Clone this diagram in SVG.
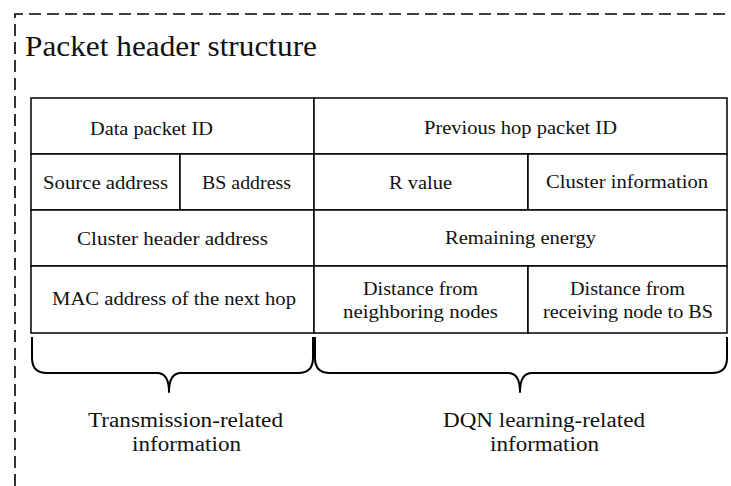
<svg xmlns="http://www.w3.org/2000/svg" width="731" height="486" viewBox="0 0 731 486">
  <style>
    .frame { fill: none; stroke: #000; stroke-width: 1.6; stroke-dasharray: 12 6; }
    .cell { fill: #fff; stroke: #000; stroke-width: 1.5; }
    .brace { fill: none; stroke: #000; stroke-width: 2; stroke-linejoin: round; }
    text { font-family: "Liberation Serif", "Times New Roman", serif; fill: #111; text-anchor: middle; }
    .lbl { font-size: 19px; }
    .title { font-size: 29px; text-anchor: start; }
    .cap { font-size: 20px; }
  </style>

  <rect width="731" height="486" fill="#fff"/>

  <!-- dashed outer frame (open on the right and bottom) -->
  <path class="frame" d="M15,486 L15,14 L740,14"/>

  <text class="title" x="25" y="56" textLength="292" lengthAdjust="spacingAndGlyphs">Packet header structure</text>

  <!-- transmission-related fields -->
  <g id="data-packet-id">
    <rect class="cell" x="31" y="98" width="283" height="56"/>
    <text class="lbl" x="151.5" y="135" textLength="123" lengthAdjust="spacingAndGlyphs">Data packet ID</text>
  </g>
  <g id="source-address">
    <rect class="cell" x="31" y="154" width="149" height="56"/>
    <text class="lbl" x="105.5" y="189" textLength="125" lengthAdjust="spacingAndGlyphs">Source address</text>
  </g>
  <g id="bs-address">
    <rect class="cell" x="180" y="154" width="134" height="56"/>
    <text class="lbl" x="246.5" y="189" textLength="89" lengthAdjust="spacingAndGlyphs">BS address</text>
  </g>
  <g id="cluster-header-address">
    <rect class="cell" x="31" y="210" width="283" height="56"/>
    <text class="lbl" x="172.5" y="245" textLength="191" lengthAdjust="spacingAndGlyphs">Cluster header address</text>
  </g>
  <g id="next-hop-mac">
    <rect class="cell" x="31" y="266" width="283" height="67"/>
    <text class="lbl" x="174" y="305" textLength="244" lengthAdjust="spacingAndGlyphs">MAC address of the next hop</text>
  </g>

  <!-- DQN learning-related fields -->
  <g id="previous-hop-packet-id">
    <rect class="cell" x="314" y="98" width="413" height="56"/>
    <text class="lbl" x="520.5" y="134" textLength="193" lengthAdjust="spacingAndGlyphs">Previous hop packet ID</text>
  </g>
  <g id="r-value">
    <rect class="cell" x="314" y="154" width="214" height="56"/>
    <text class="lbl" x="420.5" y="189" textLength="63" lengthAdjust="spacingAndGlyphs">R value</text>
  </g>
  <g id="cluster-information">
    <rect class="cell" x="528" y="154" width="199" height="56"/>
    <text class="lbl" x="627" y="188" textLength="162" lengthAdjust="spacingAndGlyphs">Cluster information</text>
  </g>
  <g id="remaining-energy">
    <rect class="cell" x="314" y="210" width="413" height="56"/>
    <text class="lbl" x="520.5" y="244" textLength="151" lengthAdjust="spacingAndGlyphs">Remaining energy</text>
  </g>
  <g id="neighbor-distance">
    <rect class="cell" x="314" y="266" width="214" height="67"/>
    <text class="lbl" x="420.5" y="295" textLength="115" lengthAdjust="spacingAndGlyphs">Distance from</text>
    <text class="lbl" x="420.5" y="318" textLength="155" lengthAdjust="spacingAndGlyphs">neighboring nodes</text>
  </g>
  <g id="bs-distance">
    <rect class="cell" x="528" y="266" width="199" height="67"/>
    <text class="lbl" x="627.5" y="295" textLength="115" lengthAdjust="spacingAndGlyphs">Distance from</text>
    <text class="lbl" x="628" y="318" textLength="170" lengthAdjust="spacingAndGlyphs">receiving node to BS</text>
  </g>

  <!-- group braces -->
  <g id="connectors">
    <path class="brace" d="M32,337 L32,358 Q32,373 47,373 L157,373 Q169,373 169,392 Q169,373 181,373 L298,373 Q313,373 313,358 L313,337"/>
    <path class="brace" d="M315,337 L315,358 Q315,373 330,373 L508,373 Q520,373 520,392 Q520,373 532,373 L712,373 Q727,373 727,358 L727,337"/>
  </g>

  <g id="transmission-group">
    <text class="cap" x="185.5" y="427" textLength="195" lengthAdjust="spacingAndGlyphs">Transmission-related</text>
    <text class="cap" x="186.5" y="451" textLength="109" lengthAdjust="spacingAndGlyphs">information</text>
  </g>
  <g id="dqn-group">
    <text class="cap" x="544" y="427" textLength="202" lengthAdjust="spacingAndGlyphs">DQN learning-related</text>
    <text class="cap" x="544.5" y="451" textLength="109" lengthAdjust="spacingAndGlyphs">information</text>
  </g>
</svg>
